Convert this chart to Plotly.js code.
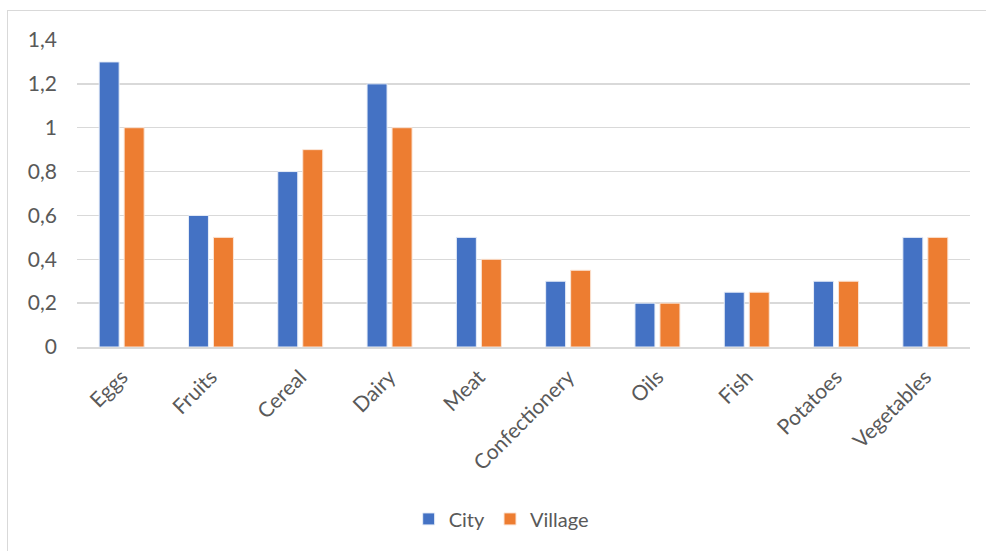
<!DOCTYPE html>
<html>
<head>
<meta charset="utf-8">
<script src="https://cdn.plot.ly/plotly-3.0.1.min.js"></script>
<style>
  html, body { margin: 0; padding: 0; background: #ffffff; }
  #wrap { position: relative; width: 986px; height: 551px; overflow: hidden; }
  #frame { position: absolute; left: 7px; top: 10px; width: 1000px; height: 600px;
           border-left: 1.5px solid #d9d9d9; border-top: 1.5px solid #d9d9d9; box-sizing: border-box; }
  #chart { position: absolute; left: 0; top: 0; width: 986px; height: 551px; }
</style>
</head>
<body>
<div id="wrap">
  <div id="frame"></div>
  <div id="chart"></div>
</div>
<script>
const categories = ["Eggs", "Fruits", "Cereal", "Dairy", "Meat", "Confectionery", "Oils", "Fish", "Potatoes", "Vegetables"];
const cityValues = [1.3, 0.6, 0.8, 1.2, 0.5, 0.3, 0.2, 0.25, 0.3, 0.5];
const villageValues = [1.0, 0.5, 0.9, 1.0, 0.4, 0.35, 0.2, 0.25, 0.3, 0.5];
const yTickVals = [0, 0.2, 0.4, 0.6, 0.8, 1, 1.2, 1.4];
const yTickText = ["0", "0,2", "0,4", "0,6", "0,8", "1", "1,2", "1,4"];

const fontFam = "Lato, Open Sans, sans-serif";
const traces = [
  { type: "bar", name: "City", x: categories, y: cityValues,
    marker: { color: "#4472c4", line: { color: "#e8eef8", width: 1 } } },
  { type: "bar", name: "Village", x: categories, y: villageValues,
    marker: { color: "#ed7d31", line: { color: "#fbe5d6", width: 1 } } }
];
const layout = {
  width: 986, height: 551,
  paper_bgcolor: "rgba(0,0,0,0)", plot_bgcolor: "rgba(0,0,0,0)",
  margin: { l: 77, r: 16, t: 40, b: 204 },
  barmode: "group", bargap: 0.44, bargroupgap: 0.2,
  font: { family: fontFam, color: "#595959", size: 21 },
  xaxis: {
    type: "category", tickangle: -45, showgrid: false,
    showline: true, linecolor: "#d9d9d9", linewidth: 1.5,
    ticks: "", ticklabelstandoff: 8,
    tickfont: { size: 21, color: "#595959", family: fontFam }
  },
  yaxis: {
    range: [0, 1.4], tickvals: yTickVals, ticktext: yTickText,
    showgrid: true, gridcolor: "#d9d9d9", gridwidth: 1.5,
    zeroline: false, showline: false, ticks: "", ticklabelstandoff: 19,
    tickfont: { size: 21, color: "#595959", family: fontFam }
  },
  showlegend: true,
  legend: { orientation: "h", x: 0.475, xanchor: "center", y: -0.56, yanchor: "middle",
            font: { size: 20, color: "#595959", family: fontFam } }
};
Plotly.newPlot("chart", traces, layout, { displayModeBar: false, staticPlot: true });
</script>
</body>
</html>
